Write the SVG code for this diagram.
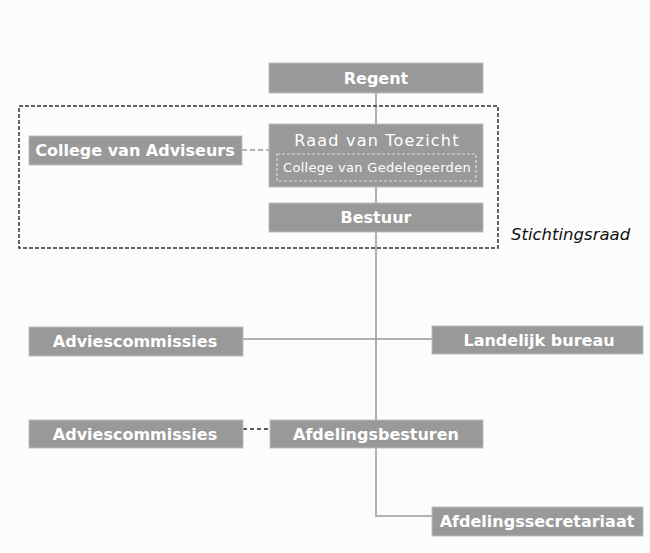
<svg xmlns="http://www.w3.org/2000/svg" width="650" height="553" viewBox="0 0 650 553">
<style>
.box{fill:#999999;stroke:#bdbdbd;stroke-width:1}
.lb{font-family:"DejaVu Sans",Verdana,sans-serif;font-weight:bold;font-size:16px;fill:#ffffff;text-anchor:middle}
.lr{font-family:"DejaVu Sans",Verdana,sans-serif;fill:#ffffff;text-anchor:middle}
.ln{fill:none;stroke:#999999;stroke-width:1.5}
</style>
<rect width="650" height="553" fill="#fcfcfc"/>
<g id="connectors">
<path class="ln" d="M376,93 V420"/>
<path class="ln" d="M376,447 V516 H432"/>
<path class="ln" d="M243,339 H432"/>
<path class="ln" d="M242,150 H269" stroke-dasharray="5,3"/>
<path d="M243,429 H270" fill="none" stroke="#222" stroke-width="1.5" stroke-dasharray="4,3"/>
</g>
<g id="stichtingsraad">
<rect x="19" y="106" width="479" height="142" fill="none" stroke="#333" stroke-width="1.5" stroke-dasharray="4,2"/>
<text x="511" y="240" font-family="DejaVu Sans,Verdana,sans-serif" font-style="italic" font-size="16.5" fill="#111">Stichtingsraad</text>
</g>
<g id="regent"><rect class="box" x="269" y="63" width="214" height="30"/><text class="lb" x="376" y="84">Regent</text></g>
<g id="raad"><rect class="box" x="269" y="124" width="214" height="63"/><text class="lr" x="377" y="146" font-size="16" letter-spacing="1.2">Raad van Toezicht</text>
<rect x="277" y="154" width="199" height="27" fill="none" stroke="#dcdcdc" stroke-width="1.2" stroke-dasharray="3,2"/>
<text class="lr" x="377" y="172" font-size="13" letter-spacing="0.3">College van Gedelegeerden</text></g>
<g id="adviseurs"><rect class="box" x="29" y="136" width="213" height="29"/><text class="lb" x="135" y="156">College van Adviseurs</text></g>
<g id="bestuur"><rect class="box" x="269" y="203" width="214" height="29"/><text class="lb" x="376" y="223">Bestuur</text></g>
<g id="advies1"><rect class="box" x="29" y="327" width="214" height="29"/><text class="lb" x="135" y="347">Adviescommissies</text></g>
<g id="landelijk"><rect class="box" x="432" y="326" width="211" height="28"/><text class="lb" x="539" y="346">Landelijk bureau</text></g>
<g id="advies2"><rect class="box" x="29" y="420" width="214" height="28"/><text class="lb" x="135" y="440">Adviescommissies</text></g>
<g id="afdelingsbesturen"><rect class="box" x="270" y="420" width="213" height="28"/><text class="lb" x="376" y="440">Afdelingsbesturen</text></g>
<g id="secretariaat"><rect class="box" x="432" y="507" width="211" height="29"/><text class="lb" x="537" y="527">Afdelingssecretariaat</text></g>
</svg>
